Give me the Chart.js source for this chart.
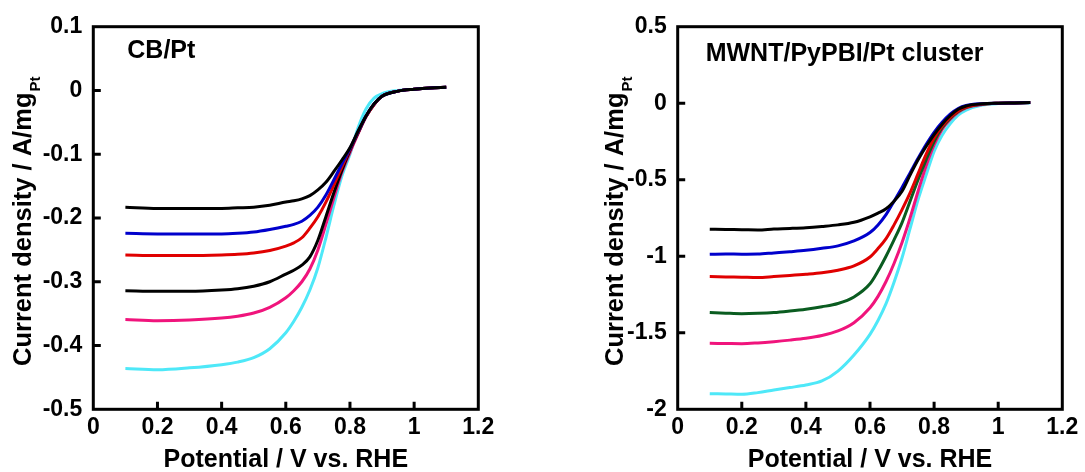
<!DOCTYPE html>
<html>
<head>
<meta charset="utf-8">
<script src="https://cdn.jsdelivr.net/npm/chart.js@4/dist/chart.umd.min.js"></script>
<style>
  html, body { margin: 0; padding: 0; background: #fff; }
  body { width: 1085px; height: 472px; position: relative; overflow: hidden; }
  canvas { position: absolute; top: 0; }
  #cL { left: 0; }
  #cR { left: 543px; }
</style>
</head>
<body>
<canvas id="cL" width="543" height="472"></canvas>
<canvas id="cR" width="542" height="472"></canvas>
<script>
// ---------- tick values / labels ----------
const xTicks = [0, 0.2, 0.4, 0.6, 0.8, 1, 1.2];
const xTickLabels = ['0', '0.2', '0.4', '0.6', '0.8', '1', '1.2'];
const yTicksL = [0.1, 0, -0.1, -0.2, -0.3, -0.4, -0.5];
const yTickLabelsL = ['0.1', '0', '-0.1', '-0.2', '-0.3', '-0.4', '-0.5'];
const yTicksR = [0.5, 0, -0.5, -1, -1.5, -2];
const yTickLabelsR = ['0.5', '0', '-0.5', '-1', '-1.5', '-2'];

// ---------- text ----------
const xTitle = 'Potential / V vs. RHE';
const yTitleMain = 'Current density / A/mg';
const yTitleSub = 'Pt';
const labelL = 'CB/Pt';
const labelR = 'MWNT/PyPBI/Pt cluster';

// ---------- left panel (CB/Pt) ----------
const potL = [0.1, 0.2, 0.3, 0.4, 0.45, 0.5, 0.55, 0.6, 0.625, 0.65, 0.675, 0.7, 0.725, 0.75, 0.775, 0.8, 0.825, 0.85, 0.875, 0.9, 0.95, 1.0, 1.05, 1.1];
const cbBlack1 = [-0.183, -0.185, -0.185, -0.185, -0.184, -0.183, -0.180, -0.175, -0.173, -0.170, -0.165, -0.156, -0.144, -0.127, -0.109, -0.090, -0.064, -0.040, -0.021, -0.009, -0.001, 0.002, 0.004, 0.005];
const cbBlue   = [-0.224, -0.225, -0.225, -0.225, -0.224, -0.222, -0.218, -0.213, -0.210, -0.205, -0.196, -0.183, -0.164, -0.140, -0.115, -0.091, -0.065, -0.040, -0.021, -0.009, -0.001, 0.002, 0.004, 0.005];
const cbRed    = [-0.258, -0.259, -0.259, -0.258, -0.257, -0.255, -0.251, -0.244, -0.239, -0.231, -0.216, -0.198, -0.175, -0.148, -0.120, -0.092, -0.066, -0.041, -0.022, -0.009, -0.001, 0.002, 0.004, 0.005];
const cbBlack2 = [-0.314, -0.315, -0.315, -0.313, -0.311, -0.307, -0.300, -0.288, -0.282, -0.274, -0.261, -0.235, -0.198, -0.160, -0.125, -0.094, -0.067, -0.041, -0.022, -0.009, -0.001, 0.002, 0.004, 0.005];
const cbPink   = [-0.359, -0.361, -0.360, -0.357, -0.354, -0.349, -0.340, -0.325, -0.314, -0.300, -0.280, -0.250, -0.210, -0.168, -0.128, -0.097, -0.068, -0.041, -0.022, -0.009, -0.001, 0.002, 0.004, 0.005];
const cbCyan   = [-0.436, -0.438, -0.435, -0.430, -0.426, -0.419, -0.405, -0.380, -0.362, -0.340, -0.313, -0.278, -0.231, -0.180, -0.134, -0.100, -0.059, -0.029, -0.012, -0.005, 0.000, 0.002, 0.004, 0.005];

// ---------- right panel (MWNT/PyPBI/Pt cluster) ----------
const potR = [0.1, 0.15, 0.2, 0.25, 0.3, 0.35, 0.4, 0.45, 0.5, 0.55, 0.6, 0.625, 0.65, 0.675, 0.7, 0.725, 0.75, 0.775, 0.8, 0.825, 0.85, 0.875, 0.9, 0.95, 1.0, 1.05, 1.1];
const mwBlack = [-0.823, -0.825, -0.826, -0.828, -0.822, -0.818, -0.813, -0.805, -0.795, -0.778, -0.742, -0.718, -0.690, -0.640, -0.575, -0.470, -0.370, -0.283, -0.205, -0.137, -0.082, -0.040, -0.018, -0.004, 0.000, 0.002, 0.004];
const mwBlue  = [-0.987, -0.985, -0.987, -0.986, -0.978, -0.970, -0.961, -0.948, -0.932, -0.900, -0.845, -0.795, -0.728, -0.640, -0.550, -0.455, -0.360, -0.270, -0.190, -0.125, -0.072, -0.035, -0.015, -0.003, 0.000, 0.002, 0.004];
const mwRed   = [-1.133, -1.135, -1.137, -1.139, -1.133, -1.126, -1.118, -1.108, -1.091, -1.063, -1.005, -0.950, -0.885, -0.795, -0.695, -0.586, -0.460, -0.335, -0.228, -0.150, -0.092, -0.050, -0.025, -0.006, 0.000, 0.002, 0.004];
const mwGreen = [-1.368, -1.372, -1.375, -1.373, -1.368, -1.358, -1.346, -1.330, -1.309, -1.266, -1.180, -1.097, -1.000, -0.893, -0.780, -0.640, -0.500, -0.370, -0.250, -0.160, -0.100, -0.055, -0.027, -0.007, 0.000, 0.002, 0.004];
const mwPink  = [-1.569, -1.570, -1.571, -1.566, -1.558, -1.548, -1.536, -1.518, -1.488, -1.434, -1.336, -1.262, -1.165, -1.047, -0.910, -0.750, -0.575, -0.410, -0.272, -0.172, -0.107, -0.060, -0.030, -0.008, 0.000, 0.002, 0.004];
const mwCyan  = [-1.898, -1.900, -1.902, -1.891, -1.874, -1.858, -1.841, -1.815, -1.750, -1.645, -1.510, -1.420, -1.310, -1.170, -1.010, -0.820, -0.630, -0.470, -0.315, -0.210, -0.135, -0.078, -0.045, -0.012, -0.002, 0.000, 0.002];

// ---------- styling ----------
const FONT = "'Liberation Sans', Arial, Helvetica, sans-serif";
const C_BLACK = '#000000', C_BLUE = '#0000cc', C_RED = '#e00000', C_GREEN = '#0a5c20', C_PINK = '#f0147c', C_CYAN = '#4ee8f8';

function ds(xs, ys, color) {
  return {
    data: xs.map((x, i) => ({ x: x, y: ys[i] })),
    borderColor: color,
    borderWidth: 3,
    pointRadius: 0,
    fill: false,
    cubicInterpolationMode: 'monotone'
  };
}

const framePlugin = {
  id: 'frame',
  afterDatasetsDraw(chart, args, opts) {
    const ctx = chart.ctx;
    const a = chart.chartArea;
    const sx = chart.scales.x, sy = chart.scales.y;
    ctx.save();
    ctx.strokeStyle = '#000';
    ctx.lineWidth = 3;
    ctx.lineJoin = 'miter';
    ctx.lineCap = 'butt';
    ctx.strokeRect(a.left, a.top, a.right - a.left, a.bottom - a.top);
    // inward ticks
    ctx.beginPath();
    xTicks.forEach(v => {
      if (v <= sx.min || v >= sx.max) return;
      const px = sx.getPixelForValue(v);
      ctx.moveTo(px, a.bottom);
      ctx.lineTo(px, a.bottom - 7.5);
    });
    opts.yTicks.forEach(v => {
      if (v <= sy.min || v >= sy.max) return;
      const py = sy.getPixelForValue(v);
      ctx.moveTo(a.left, py);
      ctx.lineTo(a.left + 7.5, py);
    });
    ctx.stroke();

    ctx.fillStyle = '#000';
    // panel label
    ctx.font = 'bold 25px ' + FONT;
    ctx.textAlign = 'left';
    ctx.textBaseline = 'middle';
    ctx.fillText(opts.label, a.left + opts.labelDx, a.top + opts.labelDy);

    // x title
    ctx.font = 'bold 25px ' + FONT;
    ctx.textAlign = 'center';
    ctx.textBaseline = 'alphabetic';
    ctx.fillText(xTitle, (a.left + a.right) / 2, 466.5);

    // y title (rotated) with subscript
    ctx.save();
    ctx.translate(opts.yTitleX, opts.yTitleStart);
    ctx.rotate(-Math.PI / 2);
    ctx.textAlign = 'left';
    ctx.textBaseline = 'alphabetic';
    ctx.font = 'bold 25.5px ' + FONT;
    ctx.fillText(yTitleMain, 0, 0);
    const w = ctx.measureText(yTitleMain).width;
    ctx.font = 'bold 15px ' + FONT;
    ctx.fillText(yTitleSub, w + 1, 9);
    ctx.restore();
    ctx.restore();
  }
};

function makeChart(id, xs, series, yMin, yMax, yTicks, yLabels, layout) {
  return new Chart(document.getElementById(id), {
    type: 'line',
    data: { datasets: series.map(s => ds(xs, s[0], s[1])) },
    options: {
      responsive: false,
      animation: false,
      events: [],
      layout: { padding: { left: 0, right: layout.padR, top: layout.padT, bottom: 0 } },
      plugins: {
        legend: { display: false },
        tooltip: { enabled: false },
        frame: {
          yTicks: yTicks,
          label: layout.label,
          labelDx: layout.labelDx,
          labelDy: layout.labelDy,
          yTitleX: layout.yTitleX,
          yTitleStart: layout.yTitleStart
        }
      },
      scales: {
        x: {
          type: 'linear',
          min: 0, max: 1.2,
          afterBuildTicks: s => { s.ticks = xTicks.map(v => ({ value: v })); },
          afterFit: s => { s.height = layout.xHeight; },
          grid: { display: false, drawTicks: false },
          border: { display: false },
          ticks: {
            callback: (v, i) => xTickLabels[i],
            font: { family: FONT, size: 23, weight: 'bold' },
            color: '#000',
            padding: 5,
            maxRotation: 0,
            autoSkip: false
          }
        },
        y: {
          type: 'linear',
          min: yMin, max: yMax,
          afterBuildTicks: s => { s.ticks = yTicks.map(v => ({ value: v })); },
          afterFit: s => { s.width = layout.yWidth; },
          grid: { display: false, drawTicks: false },
          border: { display: false },
          ticks: {
            callback: (v, i) => yLabels[i],
            font: { family: FONT, size: 23, weight: 'bold' },
            color: '#000',
            padding: 11,
            autoSkip: false
          }
        }
      }
    },
    plugins: [framePlugin]
  });
}

makeChart('cL', potL,
  [[cbBlack1, C_BLACK], [cbBlue, C_BLUE], [cbRed, C_RED], [cbBlack2, C_BLACK], [cbPink, C_PINK], [cbCyan, C_CYAN]],
  -0.5, 0.1, yTicksL, yTickLabelsL,
  { padR: 64.7, padT: 26.7, yWidth: 93.3, xHeight: 62.7,
    label: labelL, labelDx: 34, labelDy: 24, yTitleX: 31, yTitleStart: 366 });

makeChart('cR', potR,
  [[mwBlack, C_BLACK], [mwBlue, C_BLUE], [mwRed, C_RED], [mwGreen, C_GREEN], [mwPink, C_PINK], [mwCyan, C_CYAN]],
  -2, 0.5, yTicksR, yTickLabelsR,
  { padR: 22.7, padT: 26.7, yWidth: 134.7, xHeight: 62.7,
    label: labelR, labelDx: 28, labelDy: 27, yTitleX: 80, yTitleStart: 366 });
</script>
</body>
</html>
